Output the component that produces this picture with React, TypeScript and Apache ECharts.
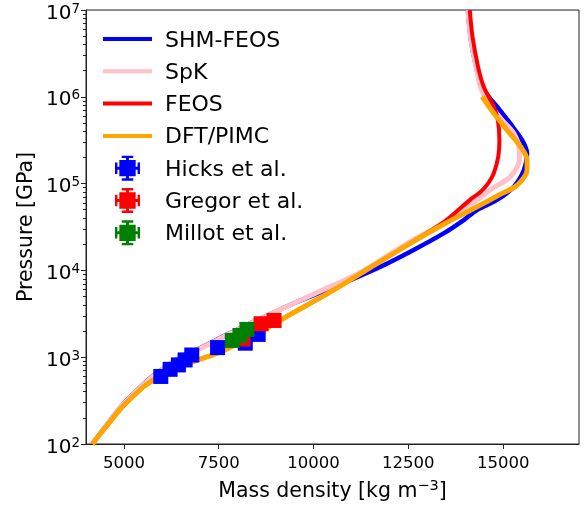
import React, { useEffect, useRef } from "react";
import * as echarts from "echarts";

// ---- data (mass density kg/m^3, pressure GPa) ----
const shmFeos: [number, number][] = [
  [4170, 100], [4530, 163], [4880, 257], [5230, 372], [5760, 605], [6500, 1010],
  [7000, 1265], [7623, 1740], [8500, 2660], [9383, 4000], [10438, 6200], [11050, 8000],
  [11670, 10500], [12550, 16400], [13430, 26700], [13960, 38000], [14310, 49700],
  [14840, 65000], [15280, 92000], [15550, 144000], [15630, 223000], [15500, 316000],
  [15190, 490000], [14840, 770000], [14620, 1000000], [14400, 1450000],
  [14290, 2200000], [14150, 4500000], [14070, 10000000],
];
const spk: [number, number][] = [
  [4170, 100], [4530, 162], [4880, 255], [5230, 370], [5760, 600], [6500, 1000],
  [7000, 1250], [7623, 1720], [8500, 2650], [9383, 4000], [10438, 6500],
  [11200, 9300], [11670, 12300], [12550, 21500], [13430, 35000], [13960, 52000],
  [14300, 64000], [14660, 85000], [15190, 120000], [15430, 190000],
  [15420, 250000], [15280, 380000], [14930, 563000], [14620, 841000],
  [14400, 1300000], [14290, 2200000], [14150, 4500000], [14070, 10000000],
];
const feos: [number, number][] = [
  [4170, 100], [4350, 128], [4530, 158], [4880, 245], [5230, 350], [5580, 478],
  [6200, 700], [6990, 946], [7500, 1130], [8500, 1850], [9383, 3100],
  [10400, 5500], [11670, 12000], [12550, 20500], [13430, 36000], [13870, 52000],
  [14180, 68000], [14400, 80000], [14600, 100000], [14750, 131000],
  [14870, 204000], [14900, 316000], [14860, 540000], [14750, 770000],
  [14490, 1300000], [14340, 2200000], [14190, 5000000], [14120, 10000000],
];
const dftPimc: [number, number][] = [
  [4170, 100], [4350, 128], [4530, 158], [4880, 245], [5230, 350], [5580, 478],
  [6200, 700], [6990, 946], [7500, 1130], [8500, 1850], [9383, 3100],
  [10400, 5500], [11670, 12000], [12550, 20500], [13430, 34000], [14310, 54000],
  [14840, 72000], [15370, 96000], [15630, 144000], [15630, 188000],
  [15460, 266000], [15100, 415000], [14750, 650000], [14445, 1000000],
];
const hicks: [number, number][] = [
  [5972, 600], [6218, 725], [6437, 815], [6613, 930], [6789, 1060],
  [7469, 1290], [8200, 1450], [8540, 1830],
];
const gregor: [number, number][] = [
  [8140, 1620], [8617, 2430], [8960, 2650],
];
const millot: [number, number][] = [
  [7858, 1560], [8060, 1780], [8243, 2090],
];

const xTicks = [5000, 7500, 10000, 12500, 15000];
const yMajor = [1e2, 1e3, 1e4, 1e5, 1e6, 1e7];
const yMinor: number[] = [];
for (let e = 2; e < 7; e++) {
  for (let m = 2; m <= 9; m++) yMinor.push(m * Math.pow(10, e));
}

const FONT = "DejaVu Sans";
const lineIcon = "path://M0,0H49V4H0Z";
const markerIcon =
  "path://M4.5,4.5H21.5V21.5H4.5Z M11.5,0H14.5V26H11.5Z M7,0H19V2.5H7Z M7,23.5H19V26H7Z M0,11.5H26V14.5H0Z M0,7H2.5V19H0Z M23.5,7H26V19H23.5Z";

export default function App() {
  const ref = useRef<HTMLDivElement>(null);
  useEffect(() => {
    const chart = echarts.init(ref.current!, undefined, { renderer: "svg" });
    const lineSeries = (name: string, data: [number, number][], color: string, width: number) => ({
      name,
      type: "line",
      data,
      showSymbol: false,
      symbol: "none",
      smooth: 0.3,
      lineStyle: { color, width },
      itemStyle: { color },
      z: 2,
    });
    const scat = (name: string, data: [number, number][], color: string) => ({
      name,
      type: "scatter",
      data,
      symbol: "rect",
      symbolSize: 15,
      itemStyle: { color, opacity: 1 },
      z: 3,
    });
    chart.setOption({
      animation: false,
      textStyle: { fontFamily: FONT },
      grid: {
        left: 86,
        right: 8,
        top: 10,
        bottom: 64,
        containLabel: false,
        outerBoundsMode: "none",
        show: true,
        borderColor: "#222",
        borderWidth: 1,
        backgroundColor: "transparent",
      },
      legend: {
        orient: "vertical",
        left: 103,
        top: 26.5,
        padding: 0,
        itemWidth: 49,
        itemHeight: 25,
        itemGap: 7.3,
        textStyle: {
          fontFamily: FONT,
          fontSize: 22,
          color: "#000",
          lineHeight: 25,
          padding: [0, 0, 0, 8],
        },
        data: [
          { name: "SHM-FEOS", icon: lineIcon },
          { name: "SpK", icon: lineIcon },
          { name: "FEOS", icon: lineIcon },
          { name: "DFT/PIMC", icon: lineIcon },
          { name: "Hicks et al.", icon: markerIcon },
          { name: "Gregor et al.", icon: markerIcon },
          { name: "Millot et al.", icon: markerIcon },
        ],
      },
      xAxis: {
        type: "value",
        min: 4000,
        max: 17000,
        splitLine: { show: false },
        axisLine: { lineStyle: { color: "#222", width: 1 } },
        axisTick: { customValues: xTicks, length: 5, lineStyle: { color: "#222" } },
        axisLabel: {
          customValues: xTicks,
          formatter: (v: number) => String(v),
          fontFamily: FONT,
          fontSize: 16.5,
          lineHeight: 20,
          color: "#000",
          margin: 8,
        },
        name: "{a|Mass density [kg m}{s|−3}{a|]}",
        nameLocation: "middle",
        nameGap: 33.5,
        nameTextStyle: {
          rich: {
            a: { fontFamily: FONT, fontSize: 20.5, color: "#000", lineHeight: 24 },
            s: { fontFamily: FONT, fontSize: 14.5, color: "#000", lineHeight: 16, padding: [0, 0, 10, 0] },
          },
        },
      },
      yAxis: [
        {
          type: "log",
          logBase: 10,
          min: 100,
          max: 1e7,
          position: "left",
          splitLine: { show: false },
          axisLine: { show: true, lineStyle: { color: "#222", width: 1 } },
          axisTick: { customValues: yMajor, length: 5, lineStyle: { color: "#222" } },
          axisLabel: {
            customValues: yMajor,
            margin: 6,
            formatter: (v: number) => `{b|10}{s|${Math.round(Math.log10(v))}}`,
            rich: {
              b: { fontFamily: FONT, fontSize: 20, color: "#000", lineHeight: 16, padding: [3, 0, 0, 0] },
              s: { fontFamily: FONT, fontSize: 13.5, color: "#000", lineHeight: 10, padding: [2, 0, 7, 0] },
            },
          },
          name: "Pressure [GPa]",
          nameLocation: "middle",
          nameGap: 51,
          nameTextStyle: { fontFamily: FONT, fontSize: 20.5, color: "#000" },
        },
        {
          type: "log",
          logBase: 10,
          min: 100,
          max: 1e7,
          position: "left",
          splitLine: { show: false },
          axisLine: { show: false },
          axisLabel: { show: false },
          axisTick: { customValues: yMinor, length: 3, lineStyle: { color: "#222" } },
        },
      ],
      series: [
        lineSeries("SHM-FEOS", shmFeos, "#0000ff", 4.5),
        lineSeries("SpK", spk, "#ffc0cb", 5),
        lineSeries("FEOS", feos, "#ff0000", 4),
        lineSeries("DFT/PIMC", dftPimc, "#ffa500", 5),
        scat("Hicks et al.", hicks, "#0000ff"),
        scat("Gregor et al.", gregor, "#ff0000"),
        scat("Millot et al.", millot, "#008000"),
      ],
    });
    return () => chart.dispose();
  }, []);
  return (
    <div
      ref={ref}
      style={{ position: "fixed", left: 0, top: 0, width: 587, height: 508 }}
    />
  );
}
